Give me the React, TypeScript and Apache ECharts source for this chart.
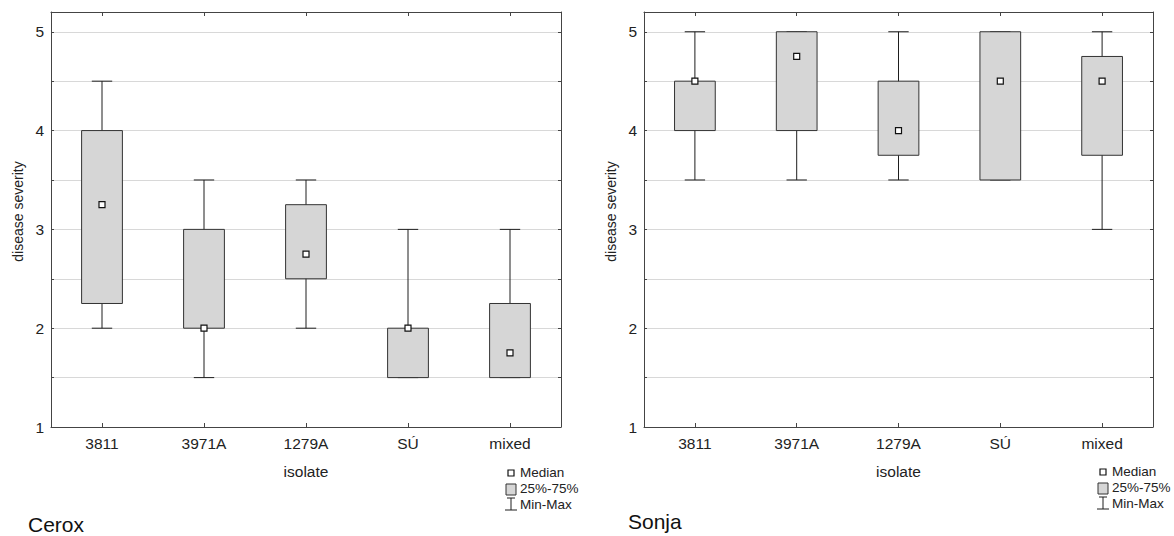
import React, { useEffect, useRef } from "react";
import * as echarts from "echarts";

const categories = ["3811", "3971A", "1279A", "SÚ", "mixed"];
// [min, q1, median, q3, max]
const ceroxStats = [
  [2, 2.25, 3.25, 4, 4.5],
  [1.5, 2, 2, 3, 3.5],
  [2, 2.5, 2.75, 3.25, 3.5],
  [1.5, 1.5, 2, 2, 3],
  [1.5, 1.5, 1.75, 2.25, 3],
];
const sonjaStats = [
  [3.5, 4, 4.5, 4.5, 5],
  [3.5, 4, 4.75, 5, 5],
  [3.5, 3.75, 4, 4.5, 5],
  [3.5, 3.5, 4.5, 5, 5],
  [3, 3.75, 4.5, 4.75, 5],
];
const panelTitles = ["Cerox", "Sonja"];
const legendLabels = ["Median", "25%-75%", "Min-Max"];
const yMin = 1;
const yMax = 5.2;
const yInterval = 0.5;

const FONT = "Liberation Sans, Arial, sans-serif";
const FRAME = "#444444";
const BOX_FILL = "#d6d6d6";
const BOX_STROKE = "#333333";
const LINE = "#1e1e1e";

function renderBox(params: any, api: any) {
  const idx = api.value(0);
  const mn = api.coord([idx, api.value(1)]);
  const q1 = api.coord([idx, api.value(2)]);
  const md = api.coord([idx, api.value(3)]);
  const q3 = api.coord([idx, api.value(4)]);
  const mx = api.coord([idx, api.value(5)]);
  const band = api.size([1, 0])[0];
  const x = mn[0];
  const bw = band * 0.4;
  const cw = band * 0.2;
  const sq = 6;
  return {
    type: "group",
    children: [
      {
        type: "line",
        shape: { x1: x, y1: mn[1], x2: x, y2: mx[1] },
        style: { stroke: LINE, lineWidth: 1 },
      },
      {
        type: "line",
        shape: { x1: x - cw / 2, y1: mn[1], x2: x + cw / 2, y2: mn[1] },
        style: { stroke: LINE, lineWidth: 1 },
      },
      {
        type: "line",
        shape: { x1: x - cw / 2, y1: mx[1], x2: x + cw / 2, y2: mx[1] },
        style: { stroke: LINE, lineWidth: 1 },
      },
      {
        type: "rect",
        shape: { x: x - bw / 2, y: q3[1], width: bw, height: q1[1] - q3[1] },
        style: { fill: BOX_FILL, stroke: BOX_STROKE, lineWidth: 1 },
      },
      {
        type: "rect",
        shape: { x: x - sq / 2, y: md[1] - sq / 2, width: sq, height: sq },
        style: { fill: "#ffffff", stroke: "#111111", lineWidth: 1.2 },
      },
    ],
  };
}

function legendGraphics(x0: number, y0: number) {
  const tx = x0 + 14;
  const rowGap = 16;
  const textStyle = (t: string, y: number) => ({
    type: "text",
    left: tx,
    top: y - 8,
    style: { text: t, fontSize: 13.5, fontFamily: FONT, fill: "#222" },
  });
  return [
    {
      type: "rect",
      shape: { x: x0 + 2, y: y0 - 3, width: 6, height: 6 },
      style: { fill: "#fff", stroke: "#111", lineWidth: 1.2 },
    },
    textStyle(legendLabels[0], y0),
    {
      type: "rect",
      shape: { x: x0, y: y0 + rowGap - 5, width: 10, height: 11 },
      style: { fill: BOX_FILL, stroke: BOX_STROKE, lineWidth: 1 },
    },
    textStyle(legendLabels[1], y0 + rowGap),
    {
      type: "line",
      shape: { x1: x0 + 1, y1: y0 + 2 * rowGap - 7, x2: x0 + 9, y2: y0 + 2 * rowGap - 7 },
      style: { stroke: LINE, lineWidth: 1 },
    },
    {
      type: "line",
      shape: { x1: x0 + 5, y1: y0 + 2 * rowGap - 7, x2: x0 + 5, y2: y0 + 2 * rowGap + 5 },
      style: { stroke: LINE, lineWidth: 1 },
    },
    {
      type: "line",
      shape: { x1: x0 - 1, y1: y0 + 2 * rowGap + 5, x2: x0 + 11, y2: y0 + 2 * rowGap + 5 },
      style: { stroke: LINE, lineWidth: 1 },
    },
    textStyle(legendLabels[2], y0 + 2 * rowGap),
  ];
}

export default function App() {
  const ref = useRef<HTMLDivElement>(null);
  useEffect(() => {
    document.body.style.margin = "0";
    if (!ref.current) return;
    const chart = echarts.init(ref.current, undefined, { renderer: "svg" });
    const grids = [
      { left: 51, right: 613, top: 12, bottom: 109 },
      { left: 644, right: 21, top: 12, bottom: 109 },
    ];
    const xAxes: any[] = [];
    const yAxes: any[] = [];
    [0, 1].forEach((g) => {
      xAxes.push({
        type: "category",
        gridIndex: g,
        data: categories,
        position: "bottom",
        name: "isolate",
        nameLocation: "middle",
        nameGap: 36,
        nameTextStyle: { fontSize: 15.5, fontFamily: FONT, color: "#222" },
        axisLine: { show: true, lineStyle: { color: FRAME, width: 1 } },
        axisTick: { show: true, inside: true, length: 4, alignWithLabel: true, lineStyle: { color: FRAME } },
        axisLabel: { fontSize: 15.5, fontFamily: FONT, color: "#222", margin: 8 },
        splitLine: { show: false },
      });
      yAxes.push({
        type: "value",
        gridIndex: g,
        min: yMin,
        max: yMax,
        interval: yInterval,
        position: "left",
        name: "disease severity",
        nameLocation: "middle",
        nameGap: 26,
        nameTextStyle: { fontSize: 14, fontFamily: FONT, color: "#222", padding: [0, 0, 0, 16] },
        axisLine: { show: true, lineStyle: { color: FRAME, width: 1 } },
        axisTick: { show: true, inside: true, length: 3, lineStyle: { color: FRAME } },
        axisLabel: {
          fontSize: 15.5,
          fontFamily: FONT,
          color: "#222",
          margin: 7,
          formatter: (v: number) => (Math.abs(v - Math.round(v)) < 1e-9 ? String(Math.round(v)) : ""),
        },
        splitLine: { show: true, lineStyle: { color: "#d8d8d8", width: 1 } },
      });
    });
    [0, 1].forEach((g) => {
      xAxes.push({
        type: "category",
        gridIndex: g,
        data: categories,
        position: "top",
        axisLine: { show: true, lineStyle: { color: FRAME, width: 1 } },
        axisTick: { show: true, inside: true, length: 4, alignWithLabel: true, lineStyle: { color: FRAME } },
        axisLabel: { show: false },
        splitLine: { show: false },
      });
      yAxes.push({
        type: "value",
        gridIndex: g,
        min: yMin,
        max: yMax,
        interval: yInterval,
        position: "right",
        axisLine: { show: true, lineStyle: { color: FRAME, width: 1 } },
        axisTick: { show: true, inside: true, length: 3, lineStyle: { color: FRAME } },
        axisLabel: { show: false },
        splitLine: { show: false },
      });
    });
    const toData = (stats: number[][]) => stats.map((s, i) => [i, ...s]);
    chart.setOption({
      animation: false,
      backgroundColor: "#ffffff",
      grid: grids,
      xAxis: xAxes,
      yAxis: yAxes,
      series: [
        {
          type: "custom",
          name: panelTitles[0],
          xAxisIndex: 0,
          yAxisIndex: 0,
          renderItem: renderBox,
          encode: { x: 0, y: [1, 2, 3, 4, 5] },
          data: toData(ceroxStats),
          z: 5,
        },
        {
          type: "custom",
          name: panelTitles[1],
          xAxisIndex: 1,
          yAxisIndex: 1,
          renderItem: renderBox,
          encode: { x: 0, y: [1, 2, 3, 4, 5] },
          data: toData(sonjaStats),
          z: 5,
        },
      ],
      graphic: [
        {
          type: "text",
          left: 28,
          top: 514,
          style: { text: panelTitles[0], fontSize: 21, fontFamily: FONT, fill: "#111" },
        },
        {
          type: "text",
          left: 628,
          top: 511,
          style: { text: panelTitles[1], fontSize: 21, fontFamily: FONT, fill: "#111" },
        },
        ...legendGraphics(506, 473),
        ...legendGraphics(1098, 472),
      ],
    });
    return () => chart.dispose();
  }, []);
  return <div ref={ref} style={{ width: 1174, height: 536 }} />;
}
